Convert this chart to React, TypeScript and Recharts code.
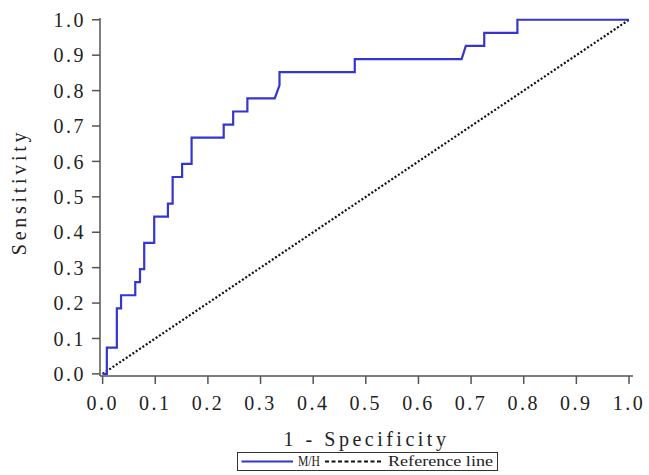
import React from "react";
import { LineChart, Line, XAxis, YAxis, Legend, Label } from "recharts";

// ROC curve vertices (1 - specificity, sensitivity)
const fpr: number[] = [
  0, 0.008, 0.008, 0.027, 0.027, 0.035, 0.035, 0.062, 0.062, 0.071, 0.071,
  0.079, 0.079, 0.098, 0.098, 0.124, 0.124, 0.133, 0.133, 0.151, 0.151, 0.169,
  0.169, 0.23, 0.23, 0.248, 0.248, 0.275, 0.275, 0.327, 0.336, 0.336, 0.479,
  0.479, 0.682, 0.69, 0.725, 0.725, 0.788, 0.788, 1.0,
];
const tpr: number[] = [
  0, 0, 0.074, 0.074, 0.185, 0.185, 0.222, 0.222, 0.259, 0.259, 0.296, 0.296,
  0.37, 0.37, 0.444, 0.444, 0.481, 0.481, 0.556, 0.556, 0.593, 0.593, 0.667,
  0.667, 0.704, 0.704, 0.741, 0.741, 0.778, 0.778, 0.815, 0.852, 0.852, 0.889,
  0.889, 0.926, 0.926, 0.963, 0.963, 1.0, 1.0,
];

// diagonal reference line
const refX: number[] = [0, 1];
const refY: number[] = [0, 1];

const axisTicks: number[] = [0, 0.1, 0.2, 0.3, 0.4, 0.5, 0.6, 0.7, 0.8, 0.9, 1.0];

const rocData = fpr.map((x, i) => ({ fpr: x, tpr: tpr[i] }));
const refData = refX.map((x, i) => ({ fpr: x, ref: refY[i] }));

const BLUE = "#3535d0";
const FONT = '"Liberation Serif", "Times New Roman", serif';
const AXIS = "#555";
const TEXT = "#222";

const tickStyle = { fontFamily: FONT, fontSize: 20, fill: TEXT, letterSpacing: 2.5 };

const renderLegend = () => (
  <svg width={261} height={19} style={{ display: "block" }}>
    <rect x={0.5} y={0.5} width={260} height={18} fill="#fff" stroke="#333" />
    <line x1={4.5} y1={9.5} x2={56} y2={9.5} stroke={BLUE} strokeWidth={2} />
    <text x={61} y={14} fontFamily={FONT} fontSize={14} fill={TEXT} textLength={22} lengthAdjust="spacingAndGlyphs">
      M/H
    </text>
    <line x1={88} y1={9.5} x2={146} y2={9.5} stroke="#111" strokeWidth={2} strokeDasharray="4 2.5" />
    <text x={151} y={14} fontFamily={FONT} fontSize={14} fill={TEXT} textLength={105} lengthAdjust="spacingAndGlyphs">
      Reference line
    </text>
  </svg>
);

const App: React.FC = () => {
  return (
    <div style={{ position: "absolute", left: 0, top: 0, width: 649, height: 475, background: "#fff" }}>
      <LineChart width={649} height={475} margin={{ top: 18, right: 16, left: 0, bottom: 4 }}>
        <XAxis
          dataKey="fpr"
          type="number"
          domain={[-0.005, 1.0076]}
          allowDataOverflow
          ticks={axisTicks}
          tickFormatter={(v: number) => v.toFixed(1)}
          height={76}
          tickSize={8}
          tickMargin={12}
          stroke={AXIS}
          strokeWidth={1.5}
          tick={tickStyle}
        >
          <Label
            value="1 - Specificity"
            position="insideBottom"
            offset={6}
            fill={TEXT}
            style={{ fontFamily: FONT, fontSize: 20, letterSpacing: 3.5 }}
          />
        </XAxis>
        <YAxis
          type="number"
          domain={[-0.006, 1.005]}
          allowDataOverflow
          ticks={axisTicks}
          tickFormatter={(v: number) => v.toFixed(1)}
          width={100}
          tickSize={8}
          tickMargin={6}
          stroke={AXIS}
          strokeWidth={1.5}
          tick={tickStyle}
        >
          <Label
            value="Sensitivity"
            position="insideLeft"
            angle={-90}
            offset={19}
            dy={-5}
            fill={TEXT}
            style={{ fontFamily: FONT, fontSize: 20, letterSpacing: 3.7, textAnchor: "middle" }}
          />
        </YAxis>
        <Legend
          verticalAlign="bottom"
          content={renderLegend}
          wrapperStyle={{ left: 237, bottom: 4, width: 261, height: 19 }}
        />
        <Line
          data={refData}
          dataKey="ref"
          type="linear"
          stroke="#111"
          strokeWidth={2.2}
          strokeDasharray="2 2"
          dot={false}
          activeDot={false}
          isAnimationActive={false}
        />
        <Line
          data={rocData}
          dataKey="tpr"
          type="linear"
          stroke={BLUE}
          strokeWidth={2.2}
          dot={false}
          activeDot={false}
          isAnimationActive={false}
        />
      </LineChart>
    </div>
  );
};

export default App;
